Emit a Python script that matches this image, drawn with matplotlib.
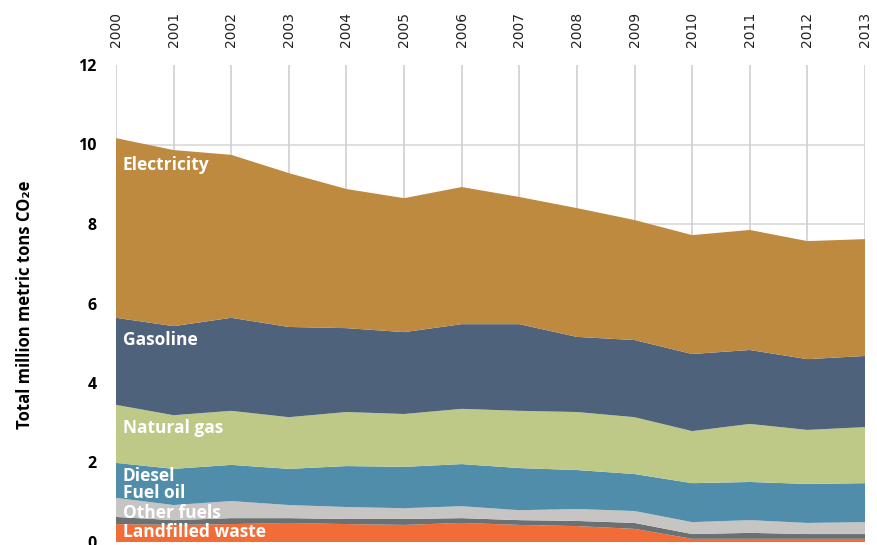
import matplotlib.pyplot as plt

years = list(range(2000, 2014))

# million metric tons CO2e
electricity = [4.52, 4.43, 4.10, 3.87, 3.50, 3.37, 3.45, 3.20, 3.24, 3.02, 2.99, 3.02, 2.97, 2.94]
gasoline = [2.19, 2.24, 2.34, 2.27, 2.11, 2.06, 2.13, 2.18, 1.89, 1.94, 1.94, 1.86, 1.78, 1.79]
natural_gas = [1.46, 1.35, 1.36, 1.30, 1.36, 1.33, 1.39, 1.44, 1.46, 1.43, 1.31, 1.46, 1.36, 1.41]
diesel = [0.88, 0.91, 0.91, 0.91, 1.03, 1.04, 1.06, 1.06, 0.98, 0.93, 0.98, 0.96, 0.98, 0.98]
fuel_oil = [0.48, 0.38, 0.43, 0.33, 0.30, 0.27, 0.30, 0.25, 0.30, 0.30, 0.30, 0.32, 0.28, 0.30]
other_fuels = [0.18, 0.12, 0.15, 0.12, 0.13, 0.15, 0.12, 0.12, 0.13, 0.15, 0.12, 0.15, 0.12, 0.12]
landfilled = [0.45, 0.43, 0.45, 0.48, 0.45, 0.43, 0.48, 0.43, 0.40, 0.33, 0.08, 0.08, 0.08, 0.08]

labels = ['Landfilled waste', 'Other fuels', 'Fuel oil', 'Diesel',
          'Natural gas', 'Gasoline', 'Electricity']
colors = ['#F26C37', '#6B7173', '#C6C5C3', '#4F8DAB',
          '#BEC988', '#4F627B', '#BD8A40']
# label heights (data units) as placed in the original
label_y = [0.25, 0.73, 1.23, 1.66, 2.87, 5.08, 9.48]

font = ['Open Sans', 'DejaVu Sans']

fig = plt.figure(figsize=(8.78, 5.45), dpi=100)
ax = fig.add_axes([116 / 878, 3 / 545, 749 / 878, 477 / 545])

ax.stackplot(years, landfilled, other_fuels, fuel_oil, diesel,
             natural_gas, gasoline, electricity,
             colors=colors, linewidth=0, zorder=2)

for y in range(2, 12, 2):
    ax.axhline(y, color='#d9d9d9', lw=1.2, zorder=1)
for x in years:
    ax.axvline(x, color='#d0d0d0', lw=1.2, zorder=1)

for name, y in zip(labels, label_y):
    ax.text(2000.12, y, name, color='white', fontsize=12.5, fontweight='bold',
            family=font, va='center', ha='left', zorder=3)

ax.set_xlim(2000, 2013)
ax.set_ylim(0, 12)
ax.set_yticks(range(0, 13, 2))
ax.set_yticklabels([str(v) for v in range(0, 13, 2)], fontsize=11.5,
                   fontweight='bold', family=font)
ax.set_xticks(years)
ax.xaxis.tick_top()
ax.set_xticklabels([str(y) for y in years], rotation=90, fontsize=10,
                   color='#222222')
ax.tick_params(axis='x', length=0, pad=13)
ax.tick_params(axis='y', length=0, pad=14)
for s in ax.spines.values():
    s.set_visible(False)

fig.text(25 / 878, 1 - 305 / 545, 'Total million metric tons CO₂e',
         rotation=90, fontsize=12, fontweight='bold', family=font,
         va='center', ha='center')

fig.savefig('out.png', dpi=100)
